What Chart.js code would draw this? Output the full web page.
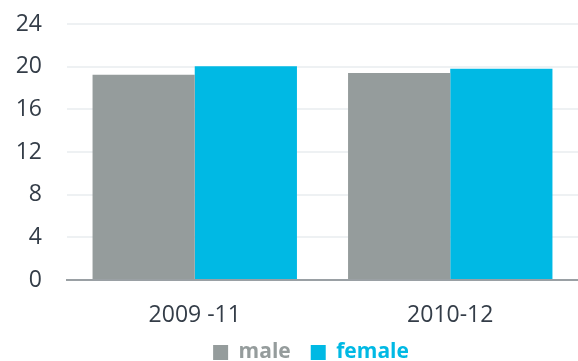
<!DOCTYPE html>
<html>
<head>
<meta charset="utf-8">
<script src="https://cdn.jsdelivr.net/npm/chart.js@4/dist/chart.umd.min.js"></script>
<style>
  html, body { margin: 0; padding: 0; background: #fff; }
  #wrap { width: 578px; height: 361px; position: relative; }
</style>
</head>
<body>
<div id="wrap"><canvas id="chart"></canvas></div>
<script>
  const categories = ['2009 -11', '2010-12'];
  const maleValues = [19.25, 19.4];
  const femaleValues = [20.05, 19.8];
  const yTicks = [0, 4, 8, 12, 16, 20, 24];

  const grey = '#959c9c';
  const cyan = '#00b9e4';
  const tickFont = { family: 'Open Sans', size: 23, lineHeight: 1 };

  // nudge legend a bit to the right, like the original
  const legendShift = {
    id: 'legendShift',
    afterLayout(chart) {
      if (chart.legend) chart.legend.left += 28;
    }
  };

  const ctx = document.getElementById('chart').getContext('2d');
  new Chart(ctx, {
    type: 'bar',
    data: {
      labels: categories,
      datasets: [
        { label: 'male', data: maleValues, backgroundColor: grey, categoryPercentage: 0.8, barPercentage: 1 },
        { label: 'female', data: femaleValues, backgroundColor: cyan, categoryPercentage: 0.8, barPercentage: 1 }
      ]
    },
    plugins: [legendShift],
    options: {
      responsive: true,
      maintainAspectRatio: false,
      animation: false,
      layout: { padding: { left: 16, right: 0, top: 0, bottom: -12 } },
      plugins: {
        tooltip: { enabled: false },
        legend: {
          position: 'bottom',
          labels: {
            boxWidth: 15,
            boxHeight: 15,
            padding: 20,
            font: { family: 'Open Sans', size: 21, weight: 'bold', lineHeight: 1 },
            generateLabels: chart => chart.data.datasets.map((ds, i) => ({
              text: ds.label,
              fillStyle: ds.backgroundColor,
              strokeStyle: ds.backgroundColor,
              lineWidth: 0,
              fontColor: ds.backgroundColor,
              datasetIndex: i
            }))
          }
        }
      },
      scales: {
        x: {
          grid: { display: false, drawTicks: false },
          border: { color: '#9aa0a4', width: 2 },
          ticks: { color: '#343d48', font: tickFont, padding: 24 },
          afterFit: scale => {
            scale.height = 42;
            scale._computeLabelArea = () => undefined; // don't clip labels to the short axis box
          }
        },
        y: {
          min: 0,
          max: 24,
          afterBuildTicks: axis => { axis.ticks = yTicks.map(v => ({ value: v })); },
          border: { display: false },
          grid: { color: '#eef1f3', lineWidth: 2, drawTicks: false },
          ticks: { color: '#343d48', font: tickFont, padding: 25 },
          afterFit: scale => {
            scale.width = 51;
            scale.paddingTop = 24;
            scale.paddingBottom = 0;
          }
        }
      }
    }
  });
</script>
</body>
</html>
